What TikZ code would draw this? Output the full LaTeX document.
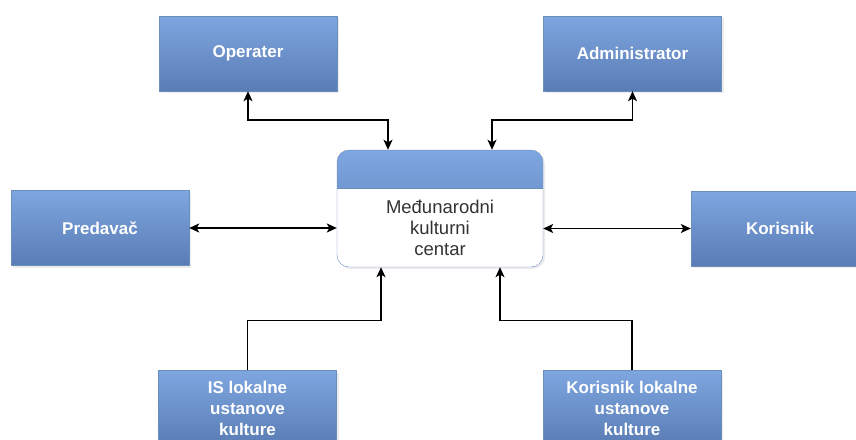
\documentclass[tikz,border=0pt]{standalone}
\usepackage{fontspec}
\setmainfont{Liberation Sans}
\usetikzlibrary{arrows.meta,shadows}
\definecolor{boxtop}{RGB}{126,166,224}
\definecolor{boxbot}{RGB}{90,124,180}
\definecolor{boxline}{RGB}{108,142,191}
\begin{document}
\begin{tikzpicture}[x=1pt,y=-1pt,
    box/.style={draw=boxline,top color=boxtop,bottom color=boxbot,
      minimum width=178pt,minimum height=75pt,inner sep=2pt,align=center,
      text=white,font=\fontsize{17}{21}\selectfont\bfseries,
      drop shadow={opacity=0.15,shadow xshift=2pt,shadow yshift=-2pt}},
    centre/.style={draw=boxline,fill=white,rounded corners=12pt,
      minimum width=206pt,minimum height=117pt,align=center,
      text=black!80,font=\fontsize{18.5}{21}\selectfont,
      drop shadow={opacity=0.15,shadow xshift=2pt,shadow yshift=-2pt},
      path picture={
        \shade[sharp corners,top color=boxtop,bottom color=boxbot]
          (path picture bounding box.north west) rectangle
          ([yshift=-38pt]path picture bounding box.north east);
        \draw[sharp corners,boxline]
          ([yshift=-38pt]path picture bounding box.north west) --
          ([yshift=-38pt]path picture bounding box.north east);}},
    link/.style={draw=black,line width=1.5pt},
    >={Stealth[length=10pt,width=9pt,inset=2.5pt]}]
  \useasboundingbox (0,0) rectangle (856,439);
  \clip (0,0) rectangle (856,439);
  \draw
    (248,53.5) node[box] (op) {Operater}
    (632.5,53.5) node[box] (adm) {Administrator}
    (100,228) node[box] (pred) {Predavač}
    (780,228.5) node[box] (kor) {Korisnik}
    (247.5,408) node[box] (is) {IS lokalne\\ustanove\\kulture}
    (632,408) node[box] (kl) {Korisnik lokalne\\ustanove\\kulture}
    (440,208.5) node[centre] (mkc) {\rule{0pt}{52pt}Međunarodni\\kulturni\\centar};
  \begin{scope}[link]
    \draw[<->] (op.south) -- ++(0,29) -| ([xshift=-52pt]mkc.north);
    \draw[<->] (adm.south) -- ++(0,29) -| ([xshift=52pt]mkc.north);
    \draw[<->] (pred.east) -- (pred.east -| mkc.west);
    \draw[<->] (mkc.east |- kor.west) -- (kor.west);
    \draw[->] (is.north) -- ++(0,-50) -| ([xshift=-59pt]mkc.south);
    \draw[->] (kl.north) -- ++(0,-50) -| ([xshift=60pt]mkc.south);
  \end{scope}
\end{tikzpicture}
\end{document}
